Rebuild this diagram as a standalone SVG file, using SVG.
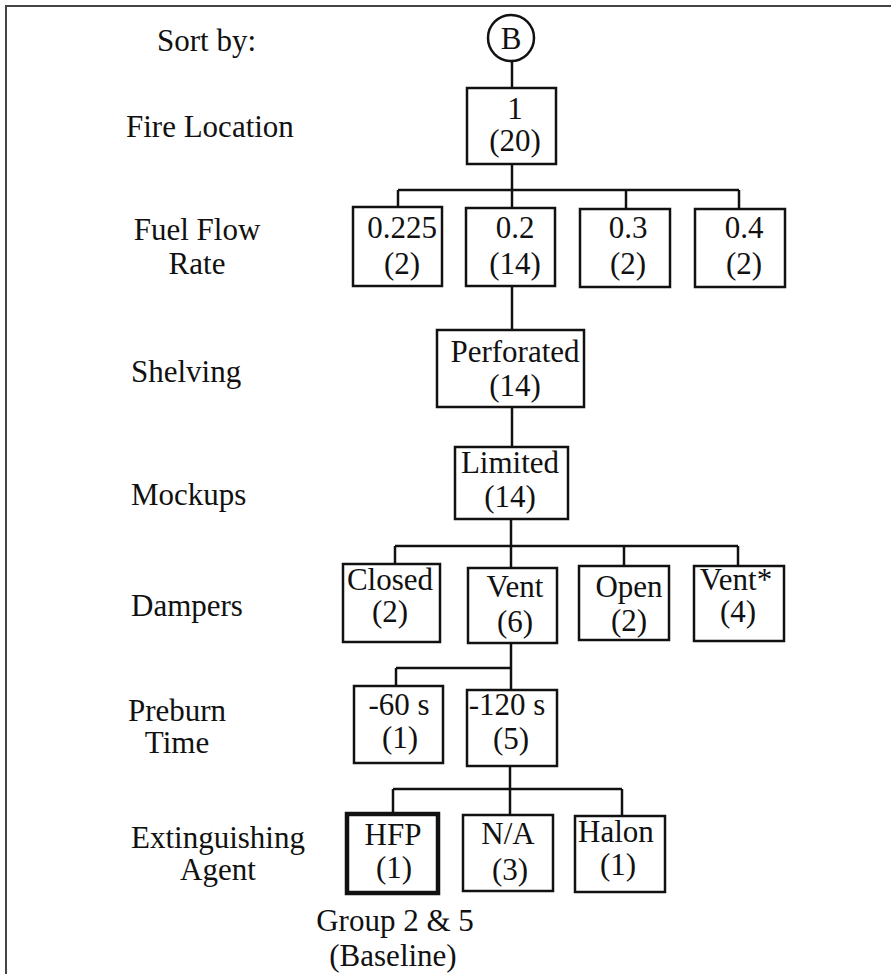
<svg xmlns="http://www.w3.org/2000/svg" width="891" height="974" viewBox="0 0 891 974">
<style>
  text { font-family: "Liberation Serif", "Times New Roman", serif; font-size: 31px; fill: #111; }
  .n { text-anchor: middle; }
  .box { fill: #fff; stroke: #111; stroke-width: 2.5; }
  .thick { stroke-width: 4.5; }
  .c line { stroke: #111; stroke-width: 2.5; }
  .frame { stroke: #444; stroke-width: 2; fill: none; }
</style>
<rect width="891" height="974" fill="#fff"/>
<path class="frame" d="M6 974 V6 H891"/>

<g id="labels">
  <text x="157" y="51">Sort by:</text>
  <text x="126" y="137">Fire Location</text>
  <text x="197" y="240" class="n">Fuel Flow</text>
  <text x="197" y="274" class="n">Rate</text>
  <text x="131" y="382">Shelving</text>
  <text x="131" y="505">Mockups</text>
  <text x="131" y="616">Dampers</text>
  <text x="177" y="721" class="n">Preburn</text>
  <text x="177" y="753" class="n">Time</text>
  <text x="218" y="848" class="n">Extinguishing</text>
  <text x="218" y="880" class="n">Agent</text>
  <text x="395" y="931" class="n">Group 2 &amp; 5</text>
  <text x="393" y="966" class="n">(Baseline)</text>
</g>

<g class="c" id="connectors">
  <line x1="512" y1="61" x2="512" y2="88"/>
  <line x1="512" y1="164" x2="512" y2="208"/>
  <line x1="398" y1="190" x2="739" y2="190"/>
  <line x1="398" y1="190" x2="398" y2="207"/>
  <line x1="626" y1="190" x2="626" y2="209"/>
  <line x1="739" y1="190" x2="739" y2="209"/>
  <line x1="512" y1="286" x2="512" y2="330"/>
  <line x1="512" y1="407" x2="512" y2="447"/>
  <line x1="511" y1="519" x2="511" y2="568"/>
  <line x1="395" y1="546" x2="738" y2="546"/>
  <line x1="395" y1="546" x2="395" y2="564"/>
  <line x1="624" y1="546" x2="624" y2="566"/>
  <line x1="738" y1="546" x2="738" y2="566"/>
  <line x1="511" y1="643" x2="511" y2="690"/>
  <line x1="396" y1="668" x2="511" y2="668"/>
  <line x1="396" y1="668" x2="396" y2="686"/>
  <line x1="510" y1="766" x2="510" y2="815"/>
  <line x1="393" y1="789" x2="622" y2="789"/>
  <line x1="393" y1="789" x2="393" y2="814"/>
  <line x1="622" y1="789" x2="622" y2="816"/>
</g>

<g id="node-B">
  <circle cx="511" cy="38" r="23" fill="#fff" stroke="#111" stroke-width="2.5"/>
  <text x="511" y="49" class="n">B</text>
</g>
<g id="node-fire-1">
  <rect class="box" x="467" y="88" width="89" height="76"/>
  <text x="515" y="119" class="n">1</text>
  <text x="515" y="151" class="n">(20)</text>
</g>
<g id="node-fuel-0225">
  <rect class="box" x="353" y="207" width="89" height="79"/>
  <text x="402" y="238" class="n">0.225</text>
  <text x="402" y="274" class="n">(2)</text>
</g>
<g id="node-fuel-02">
  <rect class="box" x="466" y="208" width="89" height="78"/>
  <text x="515" y="238" class="n">0.2</text>
  <text x="515" y="274" class="n">(14)</text>
</g>
<g id="node-fuel-03">
  <rect class="box" x="580" y="209" width="90" height="78"/>
  <text x="628" y="238" class="n">0.3</text>
  <text x="628" y="274" class="n">(2)</text>
</g>
<g id="node-fuel-04">
  <rect class="box" x="695" y="209" width="90" height="78"/>
  <text x="744" y="238" class="n">0.4</text>
  <text x="744" y="274" class="n">(2)</text>
</g>
<g id="node-perforated">
  <rect class="box" x="437" y="330" width="147" height="77"/>
  <text x="515" y="362" class="n">Perforated</text>
  <text x="515" y="396" class="n">(14)</text>
</g>
<g id="node-limited">
  <rect class="box" x="455" y="447" width="113" height="72"/>
  <text x="510" y="473" class="n">Limited</text>
  <text x="510" y="507" class="n">(14)</text>
</g>
<g id="node-closed">
  <rect class="box" x="343" y="564" width="97" height="78"/>
  <text x="390" y="590" class="n">Closed</text>
  <text x="390" y="622" class="n">(2)</text>
</g>
<g id="node-vent">
  <rect class="box" x="468" y="568" width="89" height="75"/>
  <text x="515" y="597" class="n">Vent</text>
  <text x="515" y="632" class="n">(6)</text>
</g>
<g id="node-open">
  <rect class="box" x="579" y="566" width="90" height="74"/>
  <text x="629" y="597" class="n">Open</text>
  <text x="629" y="631" class="n">(2)</text>
</g>
<g id="node-vent-star">
  <rect class="box" x="694" y="566" width="90" height="75"/>
  <text x="736" y="590" class="n">Vent*</text>
  <text x="738" y="622" class="n">(4)</text>
</g>
<g id="node-60s">
  <rect class="box" x="354" y="686" width="89" height="77"/>
  <text x="399" y="715" class="n">-60 s</text>
  <text x="400" y="748" class="n">(1)</text>
</g>
<g id="node-120s">
  <rect class="box" x="467" y="690" width="90" height="76"/>
  <text x="507" y="715" class="n">-120 s</text>
  <text x="511" y="749" class="n">(5)</text>
</g>
<g id="node-hfp">
  <rect class="box thick" x="347" y="814" width="91" height="79"/>
  <text x="393" y="845" class="n">HFP</text>
  <text x="394" y="878" class="n">(1)</text>
</g>
<g id="node-na">
  <rect class="box" x="463" y="815" width="90" height="76"/>
  <text x="508" y="844" class="n">N/A</text>
  <text x="510" y="880" class="n">(3)</text>
</g>
<g id="node-halon">
  <rect class="box" x="575" y="816" width="90" height="76"/>
  <text x="616" y="842" class="n">Halon</text>
  <text x="618" y="875" class="n">(1)</text>
</g>
</svg>
